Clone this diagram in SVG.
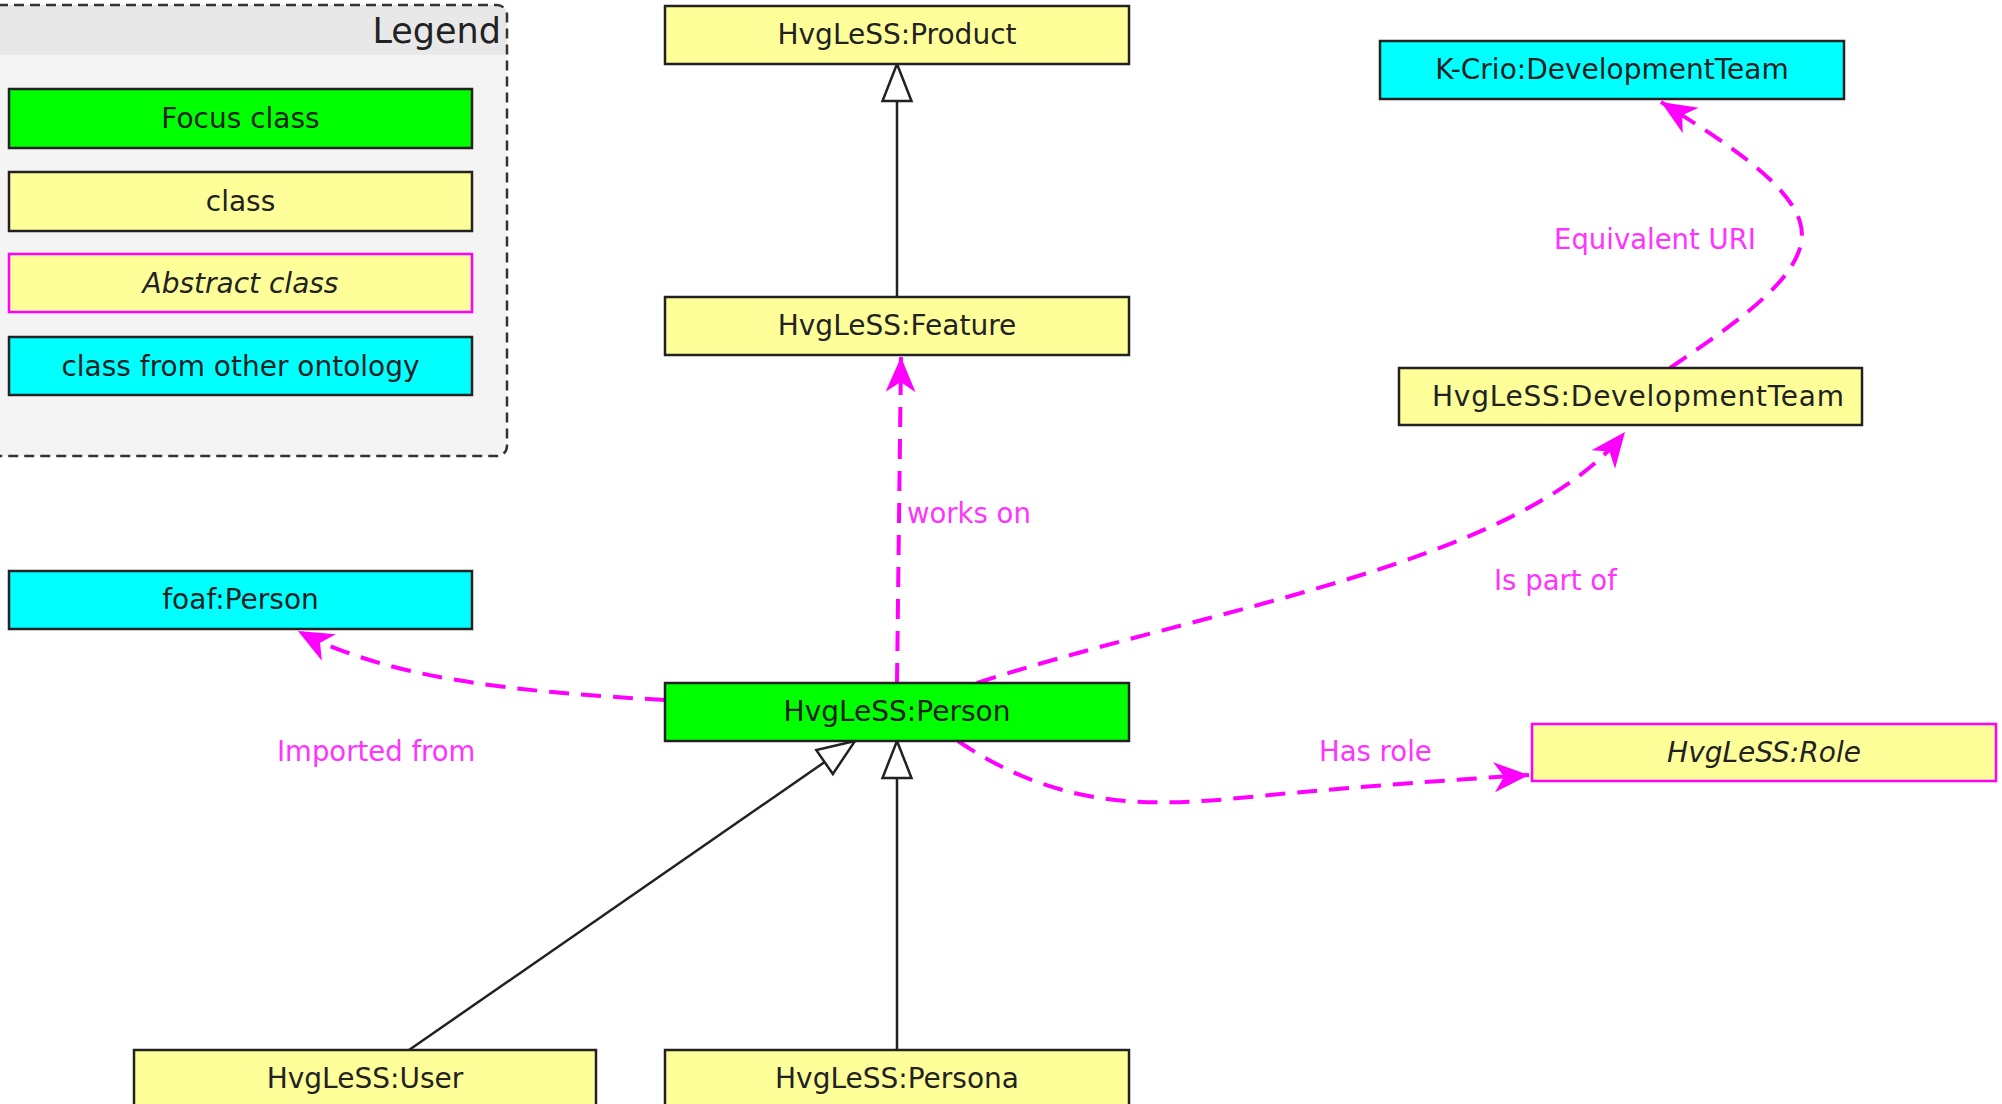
<svg xmlns="http://www.w3.org/2000/svg" width="2002" height="1104" viewBox="0 0 2002 1104">
<style>
.box{stroke:#222;stroke-width:2.5}
.yel{fill:#ffff99}
.grn{fill:#00ff00}
.cyn{fill:#00ffff}
.abs{fill:#ffff99;stroke:#ff00ff;stroke-width:2.5}
.t{font-family:"DejaVu Sans",sans-serif;font-size:28px;fill:#222;text-anchor:middle}
.it{font-style:italic}
.lbl{font-family:"DejaVu Sans",sans-serif;font-size:27.5px;fill:#ff33ff}
.dash{fill:none;stroke:#ff00ff;stroke-width:4;stroke-dasharray:20 12}
.gen{fill:none;stroke:#222;stroke-width:2.5}
</style>
<defs>
<marker id="arr" markerUnits="userSpaceOnUse" markerWidth="40" markerHeight="40" viewBox="-30 -15 32 30" refX="0" refY="0" orient="auto" overflow="visible">
<path d="M0,0 L-28,-12 L-20,0 L-28,12 Z" fill="#ff00ff"/>
</marker>
<marker id="tri" markerUnits="userSpaceOnUse" markerWidth="44" markerHeight="36" viewBox="-40 -18 42 36" refX="0" refY="0" orient="auto" overflow="visible">
<path d="M0,0 L-37,-14.5 L-37,14.5 Z" fill="#fff" stroke="#222" stroke-width="2.5" stroke-linejoin="miter"/>
</marker>
</defs>
<rect width="2002" height="1104" fill="#fff"/>
<g id="legend">
<rect x="-12" y="5" width="519" height="451" rx="10" fill="#f4f4f4"/>
<path d="M-12 55 V15 Q-12 5 -2 5 H497 Q507 5 507 15 V55 Z" fill="#e8e8e8"/>
<rect x="-12" y="5" width="519" height="451" rx="10" fill="none" stroke="#333" stroke-width="2.5" stroke-dasharray="10 6"/>
<text x="501" y="43" font-family="DejaVu Sans, sans-serif" font-size="35" fill="#222" text-anchor="end">Legend</text>
<rect class="box grn" x="9" y="89" width="463" height="59"/>
<text class="t" x="240.5" y="128">Focus class</text>
<rect class="box yel" x="9" y="172" width="463" height="59"/>
<text class="t" x="240.5" y="211">class</text>
<rect class="abs" x="9" y="254" width="463" height="58"/>
<text class="t it" x="240.5" y="293">Abstract class</text>
<rect class="box cyn" x="9" y="337" width="463" height="58"/>
<text class="t" x="240.5" y="376">class from other ontology</text>
</g>
<g id="connectors">
<path class="gen" d="M897 297 V64" marker-end="url(#tri)"/>
<path class="gen" d="M897 1050 V741" marker-end="url(#tri)"/>
<path class="gen" d="M409 1050 L855 741" marker-end="url(#tri)"/>
<path class="dash" d="M897 683 L901 357" marker-end="url(#arr)"/>
<path class="dash" d="M977 683 C1200 610 1520 565 1625 432" marker-end="url(#arr)"/>
<path class="dash" d="M665 700 C520 692 390 680 298 631" marker-end="url(#arr)"/>
<path class="dash" d="M958 741 C1060 810 1150 807 1250 797 S1450 780 1529 775" marker-end="url(#arr)"/>
<path class="dash" d="M1670 368 C1740 320 1815 270 1800 222 C1788 182 1722 140 1661 102" marker-end="url(#arr)"/>
<text class="lbl" x="907" y="523">works on</text>
<text class="lbl" x="1494" y="590">Is part of</text>
<text class="lbl" x="277" y="761">Imported from</text>
<text class="lbl" x="1319" y="761">Has role</text>
<text class="lbl" x="1554" y="249">Equivalent URI</text>
</g>
<g id="product"><rect class="box yel" x="665" y="6" width="464" height="58"/><text class="t" x="897" y="44">HvgLeSS:Product</text></g>
<g id="feature"><rect class="box yel" x="665" y="297" width="464" height="58"/><text class="t" x="897" y="335">HvgLeSS:Feature</text></g>
<g id="kcrio-devteam"><rect class="box cyn" x="1380" y="41" width="464" height="58"/><text class="t" x="1612" y="79">K-Crio:DevelopmentTeam</text></g>
<g id="devteam"><rect class="box yel" x="1399" y="368" width="463" height="57"/><text class="t" x="1638" y="406" textLength="412" lengthAdjust="spacing">HvgLeSS:DevelopmentTeam</text></g>
<g id="foaf-person"><rect class="box cyn" x="9" y="571" width="463" height="58"/><text class="t" x="240.5" y="609">foaf:Person</text></g>
<g id="person"><rect class="box grn" x="665" y="683" width="464" height="58"/><text class="t" x="897" y="721">HvgLeSS:Person</text></g>
<g id="role"><rect class="abs" x="1532" y="724" width="464" height="57"/><text class="t it" x="1764" y="762">HvgLeSS:Role</text></g>
<g id="user"><rect class="box yel" x="134" y="1050" width="462" height="60"/><text class="t" x="365" y="1088">HvgLeSS:User</text></g>
<g id="persona"><rect class="box yel" x="665" y="1050" width="464" height="60"/><text class="t" x="897" y="1088">HvgLeSS:Persona</text></g>
</svg>
